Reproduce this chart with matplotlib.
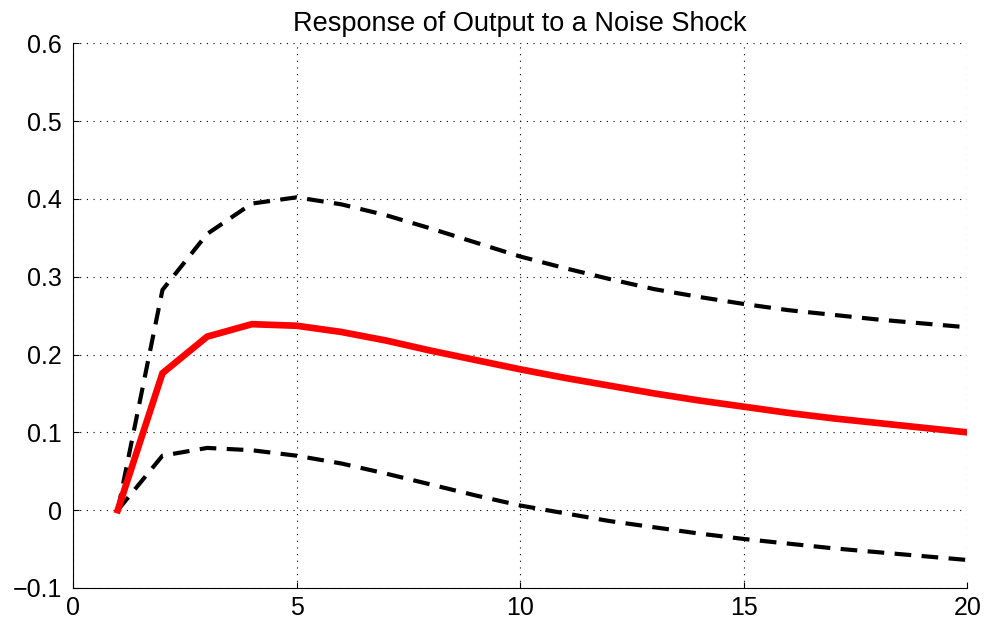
import matplotlib
matplotlib.use("Agg")
import matplotlib.pyplot as plt

periods = list(range(1, 21))
median = [0.0, 0.176, 0.223, 0.239, 0.237, 0.229, 0.218, 0.205, 0.193, 0.181,
          0.170, 0.160, 0.150, 0.141, 0.133, 0.125, 0.118, 0.112, 0.106, 0.100]
upper = [0.0, 0.283, 0.355, 0.394, 0.402, 0.393, 0.379, 0.362, 0.344, 0.326,
         0.311, 0.297, 0.284, 0.274, 0.265, 0.257, 0.251, 0.245, 0.240, 0.235]
lower = [0.0, 0.070, 0.080, 0.077, 0.070, 0.060, 0.047, 0.033, 0.019, 0.006,
         -0.004, -0.014, -0.022, -0.030, -0.037, -0.043, -0.049, -0.054, -0.059, -0.064]
xticks = [0, 5, 10, 15, 20]
yticks = [-0.1, 0, 0.1, 0.2, 0.3, 0.4, 0.5, 0.6]
ytick_labels = ["\u22120.1", "0", "0.1", "0.2", "0.3", "0.4", "0.5", "0.6"]
title = "Response of Output to a Noise Shock"

plt.rcParams['font.family'] = ['Liberation Sans', 'DejaVu Sans']

fig = plt.figure(figsize=(9.87, 6.24), dpi=100)
ax = fig.add_axes([0.074, 0.0577, 0.906, 0.873])

ax.plot(periods, upper, color='black', lw=3, dashes=(4, 2.5))
ax.plot(periods, lower, color='black', lw=3, dashes=(4, 2.5))
ax.plot(periods, median, color='red', lw=4.8, solid_joinstyle='miter')

ax.set_xlim(0, 20)
ax.set_ylim(-0.1, 0.6)
ax.set_xticks(xticks)
ax.set_yticks(yticks)
ax.set_yticklabels(ytick_labels)
ax.tick_params(direction='in', length=4, labelsize=18, width=0.8)
ax.tick_params(axis='y', pad=8)
ax.tick_params(axis='x', pad=6)
ax.grid(True, linestyle=(0, (1, 5)), color='black', lw=0.8)
ax.spines['top'].set_visible(False)
ax.spines['right'].set_visible(False)
ax.set_title(title, fontsize=19.5, pad=9)

fig.savefig("out.png", dpi=100)
